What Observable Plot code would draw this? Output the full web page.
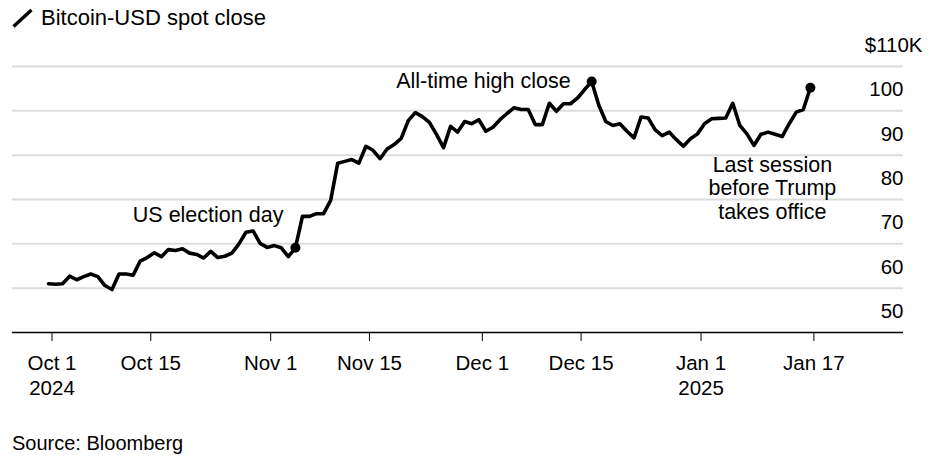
<!DOCTYPE html>
<html>
<head>
<meta charset="utf-8">
<script src="https://cdn.jsdelivr.net/npm/d3@7"></script>
<script src="https://cdn.jsdelivr.net/npm/@observablehq/plot@0.6"></script>
<style>
  html, body { margin: 0; padding: 0; background: #fff; }
  body { width: 945px; height: 466px; overflow: hidden; font-family: "Liberation Sans", Arial, Helvetica, sans-serif; color: #000; }
  #title { position: relative; height: 36px; }
  #title svg { position: absolute; left: 12px; top: 8px; }
  #title span { position: absolute; left: 41px; top: 7px; font-size: 22px; line-height: 22px; }
  #chart svg { display: block; }
  #source { margin-top: 25px; padding-left: 12px; font-size: 20px; line-height: 24px; }
</style>
</head>
<body>
<div id="title">
  <svg width="22" height="22" viewBox="0 0 22 22"><line x1="1.5" y1="18.5" x2="19.5" y2="2" stroke="#000" stroke-width="3.4"/></svg>
  <span>Bitcoin-USD spot close</span>
</div>
<div id="chart"></div>
<div id="source">Source: Bloomberg</div>
<script>
// ---- data (Bitcoin-USD spot close, $K, daily from Oct 1 2024 to Jan 17 2025) ----
const firstDate = "2024-10-01";
const lastDate = "2025-01-17";
const closes = [
  61.0, 60.9, 61.0, 62.7, 61.9, 62.6, 63.2, 62.6, 60.6, 59.7,
  63.2, 63.2, 62.9, 66.1, 66.9, 68.0, 67.1, 68.7, 68.5, 68.9,
  67.9, 67.6, 66.8, 68.3, 66.9, 67.2, 67.9, 70.0, 72.6, 72.9,
  70.1, 69.2, 69.6, 69.1, 67.1, 69.1, 76.2, 76.2, 76.8, 76.8,
  79.8, 88.2, 88.6, 89.0, 88.2, 92.0, 91.1, 89.2, 91.4, 92.4,
  93.8, 97.8, 99.6, 98.7, 97.4, 94.7, 91.7, 96.5, 95.2, 97.6,
  97.1, 98.0, 95.4, 96.3, 98.0, 99.4, 100.7, 100.3, 100.3, 96.9,
  96.9, 101.7, 99.9, 101.6, 101.6, 102.9, 104.8, 106.6, 101.3, 97.6,
  96.7, 97.1, 95.4, 93.9, 98.6, 98.4, 95.7, 94.4, 95.2, 93.5,
  92.0, 93.7, 94.8, 97.1, 98.2, 98.3, 98.4, 101.7, 96.7, 94.8,
  92.2, 94.7, 95.2, 94.7, 94.2, 97.1, 99.7, 100.3, 105.2
];

const tickDates = ["2024-10-01", "2024-10-15", "2024-11-01", "2024-11-15", "2024-12-01", "2024-12-15", "2025-01-01", "2025-01-17"];
const tickLabels = ["Oct 1\n2024", "Oct 15", "Nov 1", "Nov 15", "Dec 1", "Dec 15", "Jan 1\n2025", "Jan 17"];

const yTickValues = [50, 60, 70, 80, 90, 100, 110];
const yTickLabels = ["50", "60", "70", "80", "90", "100", "$110K"];

const noteDates = ["2024-11-05", "2024-12-17", "2025-01-17"];
const noteTexts = ["US election day", "All-time high close", "Last session\nbefore Trump\ntakes office"];

// ---- build table ----
const parse = d3.utcParse("%Y-%m-%d");
const days = d3.utcDay.range(parse(firstDate), d3.utcDay.offset(parse(lastDate), 1));
const series = days.map((date, i) => ({date, value: closes[i]}));
const byTime = new Map(series.map(d => [+d.date, d]));
const notes = noteDates.map((s, i) => ({...byTime.get(+parse(s)), text: noteTexts[i], i}));

const DAY = 864e5;
const x0 = new Date(+parse(firstDate) - 5.1 * DAY);
const x1 = new Date(+parse(firstDate) + 121.2 * DAY);

const ticks = tickDates.map(s => new Date(+parse(s) + DAY / 2));
const tickLabelOf = new Map(ticks.map((d, i) => [+d, tickLabels[i]]));

const yLabels = yTickValues.map((v, i) => ({v, label: yTickLabels[i], top: i === yTickValues.length - 1}));

const font = "'Liberation Sans', Arial, Helvetica, sans-serif";

const chart = Plot.plot({
  width: 945,
  height: 370,
  marginLeft: 12,
  marginRight: 42,
  marginTop: 30,
  marginBottom: 74,
  style: {fontFamily: font, fontSize: "20.5px", color: "#000", background: "#fff", overflow: "visible"},
  x: {type: "utc", domain: [x0, x1]},
  y: {domain: [50, 110], axis: null},
  marks: [
    Plot.ruleY(yTickValues.filter(v => v > 50), {y: d => d, stroke: "#dcdcdc", strokeWidth: 2}),
    Plot.ruleY([50], {stroke: "#000", strokeWidth: 1.6}),
    Plot.axisX(ticks, {
      tickSize: 9,
      tickPadding: 11,
      tickFormat: d => tickLabelOf.get(+d),
      fontSize: 20.5,
      lineHeight: 1.2,
      label: null
    }),
    Plot.text(yLabels.filter(d => !d.top), {
      y: "v",
      frameAnchor: "right",
      textAnchor: "end",
      text: "label",
      dy: -21,
      fontSize: 20.5,
      fill: "#000"
    }),
    Plot.text(yLabels.filter(d => d.top), {
      y: "v",
      frameAnchor: "right",
      textAnchor: "end",
      text: "label",
      dx: 19,
      dy: -21,
      fontSize: 20.5,
      fill: "#000"
    }),
    Plot.line(series, {x: "date", y: "value", stroke: "#000", strokeWidth: 3.6, strokeLinejoin: "round", strokeLinecap: "round"}),
    Plot.dot(notes, {x: "date", y: "value", r: 5, fill: "#000"}),
    Plot.text(notes.filter(d => d.i === 0), {x: "date", y: "value", text: "text", textAnchor: "end", dx: -12, dy: -33, fontSize: 21.5, fill: "#000"}),
    Plot.text(notes.filter(d => d.i === 1), {x: "date", y: "value", text: "text", textAnchor: "end", dx: -21, dy: 0, fontSize: 21.5, fill: "#000"}),
    Plot.text(notes.filter(d => d.i === 2), {x: "date", y: "value", text: "text", textAnchor: "middle", dx: -38, dy: 100, fontSize: 21.5, lineHeight: 1.1, fill: "#000"})
  ]
});
document.getElementById("chart").appendChild(chart);
</script>
</body>
</html>
